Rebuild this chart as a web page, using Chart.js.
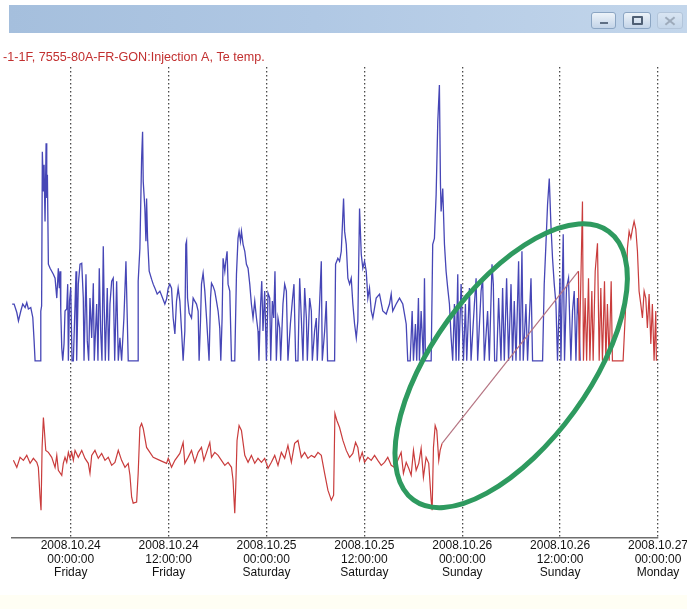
<!DOCTYPE html>
<html>
<head>
<meta charset="utf-8">
<script src="https://cdn.jsdelivr.net/npm/chart.js@4.4.1/dist/chart.umd.min.js"></script>
<style>
html, body { margin: 0; padding: 0; background: #fff; }
body { width: 687px; height: 609px; position: relative; overflow: hidden; font-family: "Liberation Sans", Arial, sans-serif; }
#titlebar { position: absolute; left: 9px; top: 5px; width: 678px; height: 28px;
  background: linear-gradient(to right, #a5bfdd 0%, #b0c8e4 45%, #c3d6eb 100%); }
#titlebar .btn { position: absolute; top: 7px; height: 15px; border: 1px solid #8ba5c3; border-radius: 3px;
  background: linear-gradient(#edf3f9, #c3d4e8); }
#bmin { left: 582px; width: 23px; }
#bmax { left: 614px; width: 26px; }
#bclose { left: 648px; width: 24px; border-color: #b3c5da !important; background: linear-gradient(#d9e5f2, #c4d6ea) !important; }
#bmin i { position: absolute; left: 8px; top: 9px; width: 8px; height: 2px; background: #5f6f84; }
#bmax i { position: absolute; left: 8px; top: 3px; width: 7px; height: 5px; border: 2px solid #4f5f74; border-radius: 1px; }
#bclose i, #bclose b { position: absolute; left: 6px; top: 7px; width: 12px; height: 2px; background: #9eabbb; }
#bclose i { transform: rotate(40deg); }
#bclose b { transform: rotate(-40deg); }
#wrap { position: absolute; left: 0; top: 35px; width: 687px; height: 560px; }
#foot { position: absolute; left: 0; top: 595px; width: 687px; height: 14px; background: #fffef4; }
</style>
</head>
<body>
<div id="titlebar">
  <div class="btn" id="bmin"><i></i></div>
  <div class="btn" id="bmax"><i></i></div>
  <div class="btn" id="bclose"><i></i><b></b></div>
</div>
<div id="wrap"><canvas id="grafico"></canvas></div>
<div id="foot"></div>
<script>
// titulo da janela do registrador
const titulo = "-1-1F, 7555-80A-FR-GON:Injection A, Te temp.";

// eixo de tempo: horas a partir de 2008.10.24 00:00
const horasTick = [0, 12, 24, 36, 48, 60, 72];
const datasTick = ["2008.10.24", "2008.10.24", "2008.10.25", "2008.10.25", "2008.10.26", "2008.10.26", "2008.10.27"];
const horaTick = ["00:00:00", "12:00:00", "00:00:00", "12:00:00", "00:00:00", "12:00:00", "00:00:00"];
const diaTick = ["Friday", "Friday", "Saturday", "Saturday", "Sunday", "Sunday", "Monday"];

// Injection A  [hora, valor]
const injecao = [
  [-7.18,47.0],[-6.94,47.0],[-6.61,45.3],[-6.41,43.6],[-6.12,45.6],[-5.88,47.0],[-5.59,46.3],[-5.39,47.3],[-5.19,46.0],[-4.90,46.3],
  [-4.65,44.3],[-4.49,39.6],[-4.37,35.6],[-3.67,35.6],[-3.67,45.6],[-3.57,46.6],[-3.48,77.6],[-3.35,69.6],[-3.27,75.0],[-3.15,63.6],
  [-3.02,79.3],[-2.94,68.3],[-2.86,73.0],[-2.74,55.0],[-2.53,54.2],[-2.33,53.6],[-2.13,53.0],[-1.92,52.2],[-1.71,48.2],[-1.52,54.2],
  [-1.40,50.2],[-1.31,53.6],[-1.22,45.6],[-1.10,38.2],[-0.98,35.6],[-0.82,39.0],[-0.70,45.6],[-0.49,46.0],[-0.37,51.0],[-0.29,35.6],
  [-0.15,47.6],[0,50.2],[0.16,35.6],[0.32,35.6],[0.53,47.0],[0.65,53.6],[0.73,35.6],[0.93,51.0],[1.14,55.0],[1.35,55.2],
  [1.54,48.2],[1.63,35.6],[1.87,53.0],[2.03,39.6],[2.20,35.6],[2.36,48.2],[2.57,40.2],[2.77,51.2],[2.89,35.6],[3.18,47.0],
  [3.34,35.6],[3.50,54.2],[3.67,41.6],[3.83,35.6],[3.99,58.6],[4.11,46.2],[4.24,35.6],[4.48,50.2],[4.65,35.6],[4.81,47.0],
  [5.02,51.6],[5.21,52.2],[5.39,35.6],[5.63,51.6],[5.83,35.6],[6.03,40.2],[6.24,35.6],[6.52,44.2],[6.77,55.6],[6.93,44.2],
  [7.05,35.6],[8.27,35.6],[8.27,51.6],[8.48,58.2],[8.69,76.2],[8.81,81.6],[8.89,71.6],[9.09,66.2],[9.22,59.6],[9.30,68.2],
  [9.42,60.2],[9.62,53.6],[9.91,52.0],[10.11,51.0],[10.32,50.2],[10.60,49.0],[10.93,49.6],[11.26,48.2],[11.54,47.0],[11.75,48.0],
  [11.95,50.2],[12.15,51.0],[12.36,50.2],[12.56,44.2],[12.77,41.0],[12.97,47.6],[13.17,50.2],[13.38,47.6],[13.59,41.6],[13.78,35.6],
  [13.99,41.6],[14.11,59.0],[14.20,59.6],[14.32,48.2],[14.52,45.2],[14.81,44.2],[15.01,48.2],[15.21,47.6],[15.42,47.0],[15.62,45.6],
  [15.74,35.6],[15.91,43.6],[16.03,51.0],[16.23,53.2],[16.44,49.6],[16.65,44.2],[16.84,39.0],[16.96,35.6],[17.14,48.2],[17.26,51.2],
  [17.45,50.6],[17.66,49.6],[17.87,47.6],[18.07,45.6],[18.27,42.2],[18.40,35.6],[18.56,44.2],[18.68,56.2],[18.89,53.6],[19.01,55.6],
  [19.17,57.6],[19.29,51.0],[19.50,49.6],[19.71,35.6],[20.11,35.6],[20.32,53.0],[20.51,60.2],[20.64,61.6],[20.81,59.6],[20.93,61.6],
  [21.13,59.0],[21.34,57.6],[21.54,55.0],[21.74,54.2],[21.95,51.0],[22.15,47.0],[22.35,44.2],[22.56,47.6],[22.77,44.2],[22.96,41.6],
  [23.08,35.6],[23.26,46.2],[23.42,51.6],[23.57,41.6],[23.78,49.6],[23.99,35.6],[24.19,49.2],[24.40,48.2],[24.52,35.6],[24.72,47.6],
  [24.89,44.2],[25.04,53.6],[25.21,35.6],[25.41,44.2],[25.62,42.2],[25.74,35.6],[26.02,47.0],[26.23,51.0],[26.44,49.6],[26.63,35.6],
  [26.93,43.0],[27.17,47.6],[27.37,51.0],[27.58,35.6],[27.86,35.6],[28.07,52.2],[28.27,44.2],[28.47,35.6],[28.68,50.2],[28.89,44.2],
  [29.01,35.6],[29.29,48.2],[29.50,45.6],[29.62,35.6],[29.90,41.6],[30.11,44.2],[30.23,35.6],[30.51,47.0],[30.72,55.6],[30.84,35.6],
  [31.13,41.6],[31.33,47.6],[31.49,35.6],[32.35,35.6],[32.47,55.0],[32.75,56.2],[32.96,55.6],[33.17,57.6],[33.45,68.2],[33.58,61.6],
  [33.78,59.0],[33.98,52.2],[34.19,51.0],[34.39,52.2],[34.59,47.0],[34.80,43.0],[35.01,40.2],[35.20,43.6],[35.41,66.2],[35.62,57.0],
  [35.81,54.2],[36.02,55.6],[36.23,53.6],[36.43,48.2],[36.63,50.2],[36.84,45.6],[37.04,44.2],[37.45,48.2],[37.86,49.0],[38.26,45.6],
  [38.68,45.0],[39.08,47.0],[39.29,49.0],[39.48,45.6],[39.90,47.0],[40.31,48.2],[40.71,47.0],[41.13,43.0],[41.32,35.6],[41.62,35.6],
  [41.86,45.6],[42.02,35.6],[42.26,43.0],[42.42,35.6],[42.63,48.2],[42.75,35.6],[42.96,45.6],[43.24,35.6],[43.37,52.2],[43.49,35.6],
  [44.19,35.6],[44.38,59.0],[44.59,60.2],[44.80,69.0],[45.00,83.6],[45.20,91.0],[45.33,71.0],[45.41,65.6],[45.61,70.2],[45.82,59.0],
  [46.02,53.6],[46.22,50.2],[46.43,47.0],[46.64,40.2],[46.83,35.6],[47.04,47.0],[47.25,35.6],[47.45,53.0],[47.57,35.6],[47.86,51.0],
  [48.15,35.6],[48.39,47.0],[48.55,35.6],[48.88,50.2],[49.08,35.6],[49.49,47.0],[49.70,52.2],[49.89,35.6],[50.31,49.6],[50.50,52.2],
  [50.71,35.6],[51.11,45.6],[51.32,35.6],[51.65,55.0],[51.81,51.0],[51.97,35.6],[52.22,35.6],[52.46,48.2],[52.75,35.6],[52.95,50.2],
  [53.16,35.6],[53.44,52.2],[53.68,35.6],[53.98,51.0],[54.17,35.6],[54.38,47.6],[54.59,35.6],[54.91,55.6],[55.08,35.6],[55.32,57.6],
  [55.48,35.6],[55.81,47.0],[56.01,35.6],[56.43,52.2],[56.62,35.6],[57.85,35.6],[58.05,51.0],[58.26,59.0],[58.46,67.0],[58.67,72.2],
  [58.87,63.0],[59.07,56.2],[59.28,51.0],[59.49,47.0],[59.68,35.6],[59.98,52.2],[60.10,35.6],[60.38,61.0],[60.54,35.6],[60.78,50.2],
  [61.03,52.2],[61.32,35.6],[61.52,45.6],[61.73,49.6],[61.94,35.6],[62.13,48.2],[62.34,43.0],[62.46,35.6]
];

// Te temp  [hora, valor]
const temperatura = [
  [-7.03,15.6],[-6.61,14.2],[-6.21,16.2],[-5.80,15.6],[-5.39,16.6],[-4.98,15.0],[-4.58,16.0],[-4.16,15.2],[-3.97,14.2],[-3.76,8.2],
  [-3.64,5.6],[-3.51,18.2],[-3.35,24.2],[-3.23,21.6],[-3.06,17.6],[-2.74,17.2],[-2.33,16.2],[-1.92,14.2],[-1.71,16.6],[-1.52,13.6],
  [-1.10,12.6],[-0.91,15.0],[-0.70,16.2],[-0.49,15.2],[-0.29,17.2],[-0.09,16.0],[0.12,17.2],[0.32,15.6],[0.53,17.6],[0.93,16.2],
  [1.35,17.6],[1.75,16.0],[2.15,15.0],[2.36,13.0],[2.57,16.6],[2.97,17.6],[3.38,16.0],[3.79,17.0],[4.20,15.6],[4.60,16.2],
  [5.02,14.6],[5.42,15.2],[5.83,17.6],[6.24,15.6],[6.65,14.2],[7.05,15.0],[7.26,12.6],[7.47,8.2],[7.66,7.0],[8.08,7.2],
  [8.27,13.0],[8.48,22.2],[8.69,23.0],[8.89,22.0],[9.30,18.2],[10.11,16.2],[10.93,15.6],[11.75,15.0],[11.95,16.0],[12.36,14.2],
  [12.77,15.6],[13.38,17.0],[13.78,19.2],[13.99,15.0],[14.39,16.2],[14.81,17.6],[15.21,15.2],[15.62,17.2],[16.03,18.2],[16.32,15.6],
  [16.65,17.2],[17.05,19.2],[17.26,16.2],[17.66,17.2],[18.07,16.6],[18.48,15.6],[18.89,14.6],[19.29,15.2],[19.71,14.2],[19.90,11.6],
  [20.11,5.0],[20.23,10.2],[20.39,19.6],[20.64,22.6],[20.93,21.6],[21.34,16.6],[21.74,15.2],[22.15,16.6],[22.56,15.0],[22.96,16.0],
  [23.38,15.2],[23.78,16.0],[24.19,14.0],[24.60,15.2],[25.01,16.6],[25.41,14.6],[25.82,17.2],[26.23,16.0],[26.63,18.6],[27.05,15.2],
  [27.45,19.0],[27.86,19.6],[28.27,16.2],[28.68,17.2],[29.08,16.0],[29.50,16.6],[29.90,16.2],[30.31,17.2],[30.72,16.6],[31.13,13.0],
  [31.53,9.6],[31.95,7.6],[32.23,8.6],[32.39,25.0],[32.63,23.6],[32.96,22.2],[33.37,19.6],[33.78,17.6],[34.19,16.2],[34.59,17.0],
  [34.92,19.2],[35.20,18.2],[35.41,15.6],[35.74,17.2],[36.02,15.2],[36.43,16.2],[36.84,15.6],[37.25,16.6],[37.65,15.6],[38.07,14.6],
  [38.47,15.2],[38.87,16.2],[39.29,14.6],[39.69,14.2],[40.10,15.6],[40.51,17.2],[40.79,13.0],[41.13,15.2],[41.44,14.0],[41.74,12.6],
  [42.02,17.6],[42.35,13.6],[42.67,15.0],[42.96,18.0],[43.24,12.2],[43.57,16.2],[43.89,15.0],[44.19,7.6],[44.31,5.6],[44.47,18.2],
  [44.68,22.6],[44.88,21.6],[45.12,15.6],[45.29,17.6],[45.53,19.0],
  [62.25,53.6],[62.34,35.6],[62.74,67.6],[62.86,35.6],[63.07,48.2],[63.25,35.6],[63.48,52.2],[63.65,35.6],[63.89,49.6],[64.05,35.6],
  [64.30,53.6],[64.58,59.2],[64.79,35.6],[64.99,50.2],[65.19,35.6],[65.44,51.6],[65.61,35.6],[65.80,47.0],[66.01,35.6],[66.26,51.6],
  [66.41,35.6],[67.72,35.6],[68.05,47.0],[68.25,58.2],[68.46,61.6],[68.67,60.2],[68.86,62.0],[69.07,63.6],[69.28,62.0],[69.48,57.6],
  [69.68,49.6],[69.89,47.0],[70.09,44.2],[70.30,49.6],[70.50,48.2],[70.70,42.2],[70.91,49.0],[71.12,39.0],[71.31,47.0],[71.52,35.6],
  [71.73,45.6],[71.80,35.6]
];

// elipse verde desenhada a mao sobre o salto da temperatura
const marcaCentro = [54.0, 34.6];   // hora, valor
const marcaRaios = [166, 78];       // px
const marcaAngulo = -54;            // graus

const elipse = {
  id: 'elipse',
  afterDatasetsDraw(chart) {
    const ctx = chart.ctx;
    const cx = chart.scales.x.getPixelForValue(marcaCentro[0]);
    const cy = chart.scales.y.getPixelForValue(marcaCentro[1]);
    ctx.save();
    ctx.strokeStyle = '#2e9a5f';
    ctx.lineWidth = 5;
    ctx.beginPath();
    ctx.ellipse(cx, cy, marcaRaios[0], marcaRaios[1], marcaAngulo * Math.PI / 180, 0, Math.PI * 2);
    ctx.stroke();
    ctx.restore();
  }
};

const paraPontos = lista => lista.map(p => ({x: p[0], y: p[1]}));

new Chart("grafico", {
  type: "line",
  data: {
    datasets: [{
      label: "Te temp",
      data: paraPontos(temperatura),
      borderColor: "#c93c3c",
      borderWidth: 1.2,
      pointRadius: 0,
      order: 0,
      segment: {
        borderColor: c => (c.p1.parsed.x - c.p0.parsed.x > 4 ? "#b57482" : undefined)
      }
    },
    {
      label: "Injection A",
      data: paraPontos(injecao),
      borderColor: "#4646b6",
      borderWidth: 1.3,
      pointRadius: 0,
      order: 1
    }]
  },
  options: {
    responsive: true,
    maintainAspectRatio: false,
    animation: false,
    layout: { padding: { left: 3, right: 29, top: 0, bottom: 14.5 } },
    plugins: {
      legend: { display: false },
      tooltip: { enabled: false },
      title: {
        display: true,
        text: titulo,
        align: "start",
        color: "#c23030",
        font: { family: "Liberation Sans", size: 12.6, weight: "normal" },
        padding: { top: 15, bottom: 2 }
      }
    },
    scales: {
      x: {
        type: "linear",
        min: -7.2,
        max: 72,
        afterBuildTicks: s => { s.ticks = horasTick.map(v => ({ value: v })); },
        afterFit: s => { s.paddingLeft = 0; s.paddingRight = 0; },
        grid: { color: "#4a4a4a", lineWidth: 1.3, drawTicks: false },
        border: { display: true, color: "#6e6e6e", width: 1.5, dash: [1.5, 2.5] },
        ticks: {
          padding: 1,
          maxRotation: 0,
          autoSkip: false,
          color: "#111",
          font: { family: "Liberation Sans", size: 12, lineHeight: 1.125 },
          callback: (v, i) => [datasTick[i], horaTick[i], diaTick[i]]
        }
      },
      y: {
        min: 0,
        max: 94.6,
        grid: { display: false },
        border: { display: false },
        ticks: { display: false },
        afterFit: s => { s.width = 9; }
      }
    }
  },
  plugins: [elipse]
});
</script>
</body>
</html>
